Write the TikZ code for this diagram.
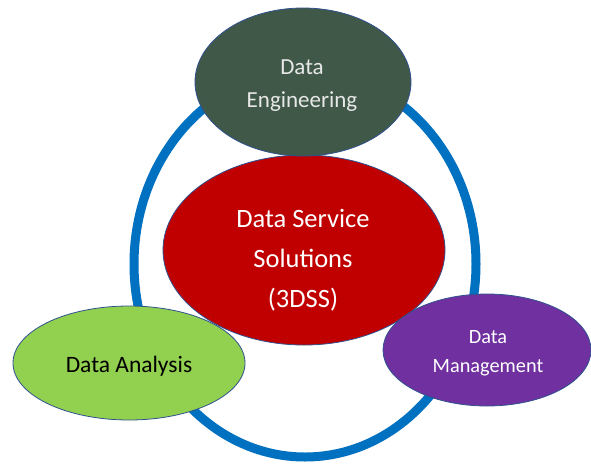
\documentclass[tikz,border=0pt]{standalone}
\usepackage{fontspec}
\setmainfont{Carlito}
\usetikzlibrary{shapes.geometric}
\definecolor{ringblue}{RGB}{0,112,192}
\definecolor{edgeblue}{RGB}{47,82,143}
\definecolor{degreen}{RGB}{64,88,72}
\definecolor{dsred}{RGB}{192,0,0}
\definecolor{dagreen}{RGB}{146,208,80}
\definecolor{dmpurple}{RGB}{112,48,160}
\definecolor{lighttext}{RGB}{232,232,232}
\tikzset{
  blob/.style={ellipse, draw=edgeblue, line width=0.8pt, inner sep=0pt},
  lbl/.style={align=center, inner sep=0pt},
}
\begin{document}
\begin{tikzpicture}[x=1pt,y=-1pt]
\useasboundingbox (0,0) rectangle (591,466);
\node (ring) [ellipse, draw=ringblue, line width=9pt, minimum width=342pt, minimum height=386pt] at (305,264) {};
\node (ds) [blob, fill=dsred, minimum width=282pt, minimum height=190pt] at (304,250) {};
\node (de) [blob, fill=degreen, minimum width=216pt, minimum height=148pt] at (303,82) {};
\node (da) [blob, fill=dagreen, minimum width=232pt, minimum height=114pt] at (129,363) {};
\node (dm) [blob, fill=dmpurple, minimum width=208pt, minimum height=112pt] at (487,350) {};
\node (det) [lbl, text=lighttext, font=\fontsize{23}{33}\selectfont] at (302,86) {Data\\Engineering};
\node (dst) [lbl, text=white, font=\fontsize{26.5}{40}\selectfont] at (303,260) {Data Service\\Solutions\\(3DSS)};
\node (dat) [lbl, text=black, font=\fontsize{23.5}{28}\selectfont] at (129,366) {Data Analysis};
\node (dmt) [lbl, text=white, font=\fontsize{20.3}{29}\selectfont] at (488,353) {Data\\Management};
\end{tikzpicture}
\end{document}
